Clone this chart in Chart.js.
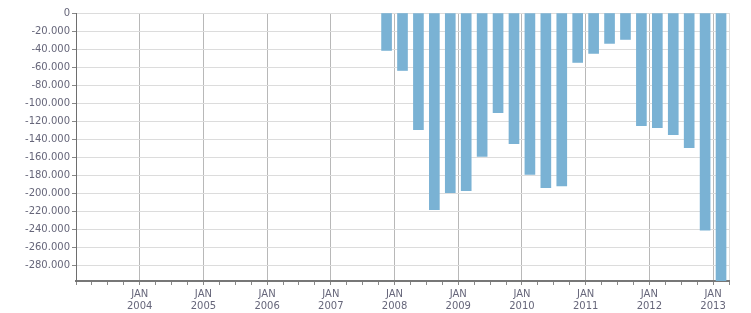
<!DOCTYPE html>
<html>
<head>
<meta charset="utf-8">
<script src="https://cdn.jsdelivr.net/npm/chart.js@4/dist/chart.umd.min.js"></script>
<style>
  body{margin:0;background:#fff;}
  #grafico{display:block;}
</style>
</head>
<body>
<canvas id="grafico" width="751" height="313"></canvas>
<script>
// DATOS (trimestres y saldo)
const quarters = ['2007 Q4',
  '2008 Q1','2008 Q2','2008 Q3','2008 Q4',
  '2009 Q1','2009 Q2','2009 Q3','2009 Q4',
  '2010 Q1','2010 Q2','2010 Q3','2010 Q4',
  '2011 Q1','2011 Q2','2011 Q3','2011 Q4',
  '2012 Q1','2012 Q2','2012 Q3','2012 Q4',
  '2013 Q1'];
const values = [-41500,
  -63700,-129300,-218000,-199000,
  -197000,-159000,-110400,-144800,
  -179000,-193700,-191500,-54800,
  -44800,-33700,-29300,-124800,
  -127000,-134800,-149300,-240700,
  -300000];
const firstYear = 2003;   // inicio del eje (JAN 2003)
const xMax = 123;         // meses -> APR 2013
const yMin = -297000;
const yStep = 20000;

// meses desde enero del primer año, al centro del trimestre
function quarterPos(q){
  const parts = q.split(' Q');
  return (parseInt(parts[0]) - firstYear) * 12 + (parseInt(parts[1]) - 1) * 3 + 1.5;
}

const puntos = quarters.map((q, i) => ({x: quarterPos(q), y: values[i]}));

function miles(v){
  const s = Math.abs(v).toString().replace(/\B(?=(\d{3})+(?!\d))/g, '.');
  return (v < 0 ? '-' : '') + s;
}

const fuente = {family: 'DejaVu Sans', size: 10};
const colorTexto = '#66667a';

const canvas = document.querySelector('#grafico');
const grafico = new Chart(canvas, {
  type: 'bar',
  data: {
    datasets: [{
      label: 'Saldo',
      data: puntos,
      backgroundColor: '#7ab2d4',
      borderWidth: 0,
      barThickness: 10
    }]
  },
  options: {
    responsive: false,
    animation: false,
    layout: {padding: {top: 13, right: 22, left: 0, bottom: 0}},
    plugins: {legend: {display: false}, tooltip: {enabled: false}},
    scales: {
      x: {
        type: 'linear',
        min: 0,
        max: xMax,
        offset: false,
        afterFit: s => { s.height = 32; },
        border: {color: '#777', width: 2},
        grid: {
          offset: false,
          color: ctx => {
            const v = ctx.tick ? ctx.tick.value : 0;
            if (v === xMax) return '#dedede';
            return (v % 12 === 0 && v > 0) ? '#b8b8b8' : 'rgba(0,0,0,0)';
          },
          tickColor: '#888',
          tickLength: 4
        },
        ticks: {
          stepSize: 3,
          autoSkip: false,
          maxRotation: 0,
          minRotation: 0,
          padding: 3,
          color: colorTexto,
          font: fuente,
          callback: v => (v % 12 === 0 && v > 0) ? ['JAN', String(firstYear + v / 12)] : ''
        }
      },
      y: {
        min: yMin,
        max: 0,
        afterFit: s => { s.width = 76; },
        afterBuildTicks: s => {
          const t = [];
          for (let v = 0; v >= yMin; v -= yStep) t.unshift({value: v});
          s.ticks = t;
        },
        border: {color: '#6e6e6e', width: 1},
        grid: {color: '#dcdcdc', tickColor: '#888', tickLength: 4},
        ticks: {
          padding: 2,
          color: colorTexto,
          font: fuente,
          callback: v => miles(v)
        }
      }
    }
  }
});
</script>
</body>
</html>
